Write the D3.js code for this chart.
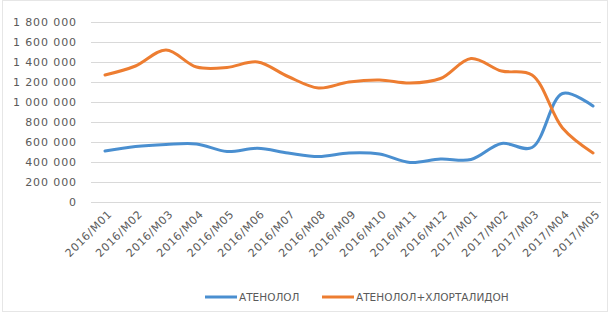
<!DOCTYPE html>
<meta charset="utf-8">
<script src="https://d3js.org/d3.v7.min.js"></script>
<style>
body { margin: 0; background: #fff; }
text { font-family: "DejaVu Sans", "Open Sans", sans-serif; fill: #5a5a5a; }
</style>
<body>
<div id="chart"></div>
<script>
// months on the x axis
var months = ["2016/M01","2016/M02","2016/M03","2016/M04","2016/M05","2016/M06","2016/M07","2016/M08","2016/M09",
  "2016/M10","2016/M11","2016/M12","2017/M01","2017/M02","2017/M03","2017/M04","2017/M05"];
var atenolol = [510000,555000,575000,580000,505000,537000,490000,455000,490000,480000,395000,430000,425000,585000,545000,1085000,960000];
var combo = [1270000,1360000,1520000,1350000,1345000,1400000,1255000,1140000,1200000,1220000,1190000,1235000,1435000,1310000,1270000,740000,490000];
var yTicks = [0,200000,400000,600000,800000,1000000,1200000,1400000,1600000,1800000];
var seriesNames = ["АТЕНОЛОЛ", "АТЕНОЛОЛ+ХЛОРТАЛИДОН"];
var colors = ["#4a8fd0", "#ed7d31"];

var W = 609, H = 314;
var svg = d3.select("#chart").append("svg").attr("width", W).attr("height", H);

svg.append("rect").attr("x", 2.5).attr("y", 0.5).attr("width", W - 4).attr("height", H - 3)
  .attr("fill", "none").attr("stroke", "#e6e6e6");

var x = d3.scalePoint().domain(months).range([105, 593]);
var y = d3.scaleLinear().domain([0, 1800000]).range([202, 22]);

var fmt = function(v) { return d3.format(",")(v).replace(/,/g, " "); };

// gridlines
svg.append("g").selectAll("line").data(yTicks).enter().append("line")
  .attr("x1", 91).attr("x2", 601)
  .attr("y1", function(d) { return Math.round(y(d)) + 0.5; })
  .attr("y2", function(d) { return Math.round(y(d)) + 0.5; })
  .attr("stroke", "#d9d9d9").attr("stroke-width", 1);

// y labels
svg.append("g").selectAll("text").data(yTicks).enter().append("text")
  .attr("x", 77).attr("y", function(d) { return y(d); }).attr("dy", "0.35em")
  .attr("text-anchor", "end").style("font-size", "11px").style("letter-spacing", "0.9px")
  .text(fmt);

// x labels
svg.append("g").selectAll("text").data(months).enter().append("text")
  .attr("transform", function(d) { return "translate(" + (x(d) + 5) + ",212) rotate(-45)"; })
  .attr("text-anchor", "end").attr("dy", "0.35em")
  .style("font-size", "11px").style("letter-spacing", "0.7px")
  .text(function(d) { return d; });

var line = d3.line()
  .x(function(d, i) { return x(months[i]); })
  .y(function(d) { return y(d); })
  .curve(d3.curveCatmullRom.alpha(0.5));

[atenolol, combo].forEach(function(s, i) {
  svg.append("path").datum(s).attr("d", line)
    .attr("fill", "none").attr("stroke", colors[i]).attr("stroke-width", 3)
    .attr("stroke-linecap", "round");
});

// legend
var legendX = [205, 322];
seriesNames.forEach(function(n, i) {
  svg.append("line").attr("x1", legendX[i]).attr("x2", legendX[i] + 32)
    .attr("y1", 297).attr("y2", 297).attr("stroke", colors[i]).attr("stroke-width", 3);
  svg.append("text").attr("x", legendX[i] + 34).attr("y", 297).attr("dy", "0.35em")
    .style("font-size", "10.5px").text(n);
});
</script>
</body>
